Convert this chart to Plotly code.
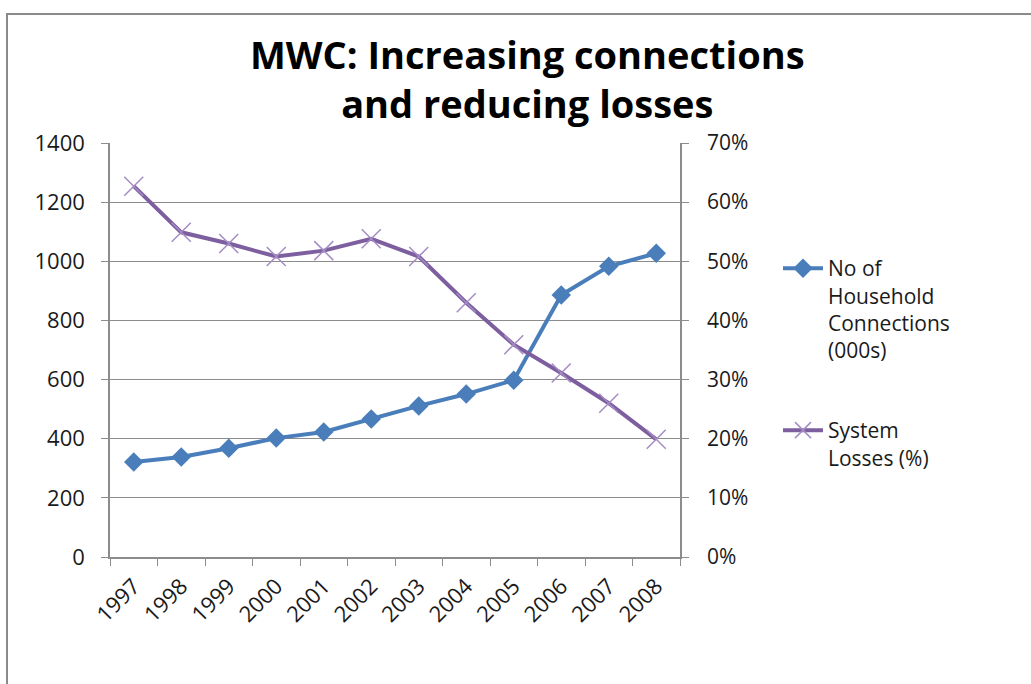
import plotly.graph_objects as go

years = ["1997", "1998", "1999", "2000", "2001", "2002", "2003", "2004", "2005", "2006", "2007", "2008"]
connections = [321, 338, 368, 402, 423, 467, 511, 551, 598, 886, 983, 1027]
losses = [0.627, 0.549, 0.530, 0.508, 0.518, 0.538, 0.508, 0.430, 0.359, 0.311, 0.260, 0.199]

left_ticks = [0, 200, 400, 600, 800, 1000, 1200, 1400]
right_ticks = [0, 0.1, 0.2, 0.3, 0.4, 0.5, 0.6, 0.7]

FONT = "Open Sans"
GRID = "#8c8c8c"

W, H = 1031, 684
L, R, T, B = 110, 1031 - 680, 143, 684 - 557
pw, ph = W - L - R, H - T - B

def px(x):
    return (x - L) / pw

def py(y):
    return (H - B - y) / ph

fig = go.Figure()
fig.add_trace(go.Scatter(
    x=years, y=connections, mode="lines+markers",
    name="No of<br>Household<br>Connections<br>(000s)",
    line=dict(color="#4a7ebb", width=4),
    marker=dict(symbol="diamond", size=15, color="#4a7ebb"),
    legend="legend",
))
fig.add_trace(go.Scatter(
    x=years, y=losses, mode="lines+markers", yaxis="y2",
    name="System<br>Losses (%)",
    line=dict(color="#7d5fa0", width=4),
    marker=dict(symbol="x-thin-open", size=19, color="#a48cc4", line=dict(width=1.5, color="#a48cc4")),
    legend="legend2",
))

fig.update_layout(
    width=W, height=H,
    margin=dict(l=L, r=R, t=T, b=B),
    paper_bgcolor="white", plot_bgcolor="white",
    font=dict(family=FONT, size=20, color="#1a1a1a"),
    annotations=[dict(
        text="<b>MWC: Increasing connections<br>and reducing losses</b>",
        xref="paper", yref="paper", x=px(527), y=py(79),
        xanchor="center", yanchor="middle", showarrow=False,
        font=dict(family=FONT, size=38, color="black"),
    )],
    xaxis=dict(
        type="category", tickson="boundaries", ticks="outside", ticklen=7,
        tickcolor=GRID, showline=True, linecolor=GRID, linewidth=1.5,
        showgrid=False, tickangle=-45, tickfont=dict(size=22, family=FONT),
        range=[-0.5, 11.5], ticklabelstandoff=6,
    ),
    yaxis=dict(
        range=[0, 1400], tickvals=left_ticks, ticks="outside", ticklen=7,
        tickcolor=GRID, showline=True, linecolor=GRID, linewidth=1.5,
        showgrid=True, gridcolor=GRID, gridwidth=1, zeroline=False,
        tickfont=dict(size=22, family=FONT), ticklabelstandoff=12,
    ),
    yaxis2=dict(
        range=[0, 0.7], tickvals=right_ticks, tickformat=".0%", overlaying="y",
        side="right", ticks="outside", ticklen=7, tickcolor=GRID,
        showline=True, linecolor=GRID, linewidth=1.5, showgrid=False,
        zeroline=False, tickfont=dict(size=21, family=FONT), ticklabelstandoff=14,
    ),
    legend=dict(
        x=px(778), y=py(248), xanchor="left", yanchor="top", valign="top",
        font=dict(size=21, family=FONT), bgcolor="rgba(0,0,0,0)",
        itemwidth=40,
    ),
    legend2=dict(
        x=px(778), y=py(410), xanchor="left", yanchor="top", valign="top",
        font=dict(size=21, family=FONT), bgcolor="rgba(0,0,0,0)",
        itemwidth=40,
    ),
    showlegend=True,
    shapes=[dict(
        type="rect", xref="paper", yref="paper",
        x0=px(7), x1=px(1040), y0=py(14), y1=py(700),
        line=dict(color="#8a8a8a", width=2), fillcolor="rgba(0,0,0,0)",
    )],
)

fig.write_html("out.html")
